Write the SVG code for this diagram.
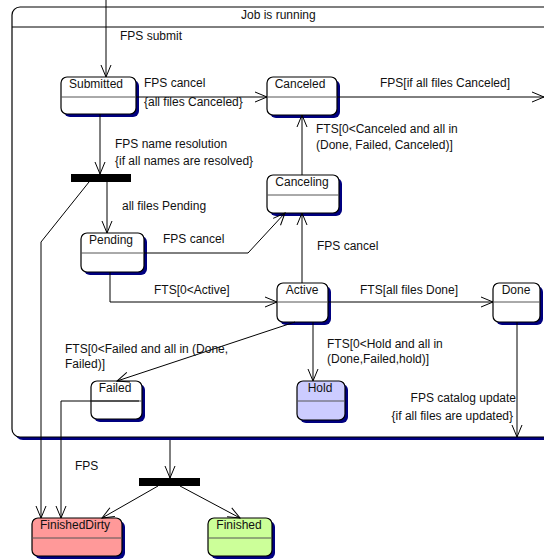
<svg xmlns="http://www.w3.org/2000/svg" width="544" height="560" viewBox="0 0 544 560">
  <defs>
    <marker id="open" viewBox="0 0 14 12" refX="13" refY="6" markerWidth="14" markerHeight="12" markerUnits="userSpaceOnUse" orient="auto">
      <path d="M1,1 L13,6 L1,11" fill="none" stroke="#000" stroke-width="1"/>
    </marker>
  </defs>
  <style>
    text { font-family: "Liberation Sans", Arial, sans-serif; font-size: 12px; fill: #111; }
    .shadow { fill: #000080; }
    .box { fill: #fff; stroke: #000; stroke-width: 1.2; }
    .div { stroke: #555; stroke-width: 1; }
    .edge { fill: none; stroke: #000; stroke-width: 1; marker-end: url(#open); }
    .plain { fill: none; stroke: #000; stroke-width: 1; }
    .bar { fill: #000; }
    .mid { text-anchor: middle; }
  </style>
  <rect width="544" height="560" fill="#fff"/>

  <!-- composite state frame -->
  <g id="job-is-running">
    <rect class="shadow" x="15" y="10" width="560" height="430" rx="8"/>
    <rect class="box" x="12" y="7" width="560" height="430" rx="8"/>
    <line class="plain" x1="12" y1="27" x2="544" y2="27"/>
    <text x="241" y="19">Job is running</text>
  </g>

  <!-- states -->
  <g id="submitted">
    <rect class="shadow" x="64" y="80" width="75" height="37" rx="6"/>
    <rect class="box" x="61" y="77" width="75" height="37" rx="6"/>
    <line class="div" x1="61" y1="97" x2="136" y2="97"/>
    <text class="mid" x="96" y="88">Submitted</text>
  </g>
  <g id="canceled">
    <rect class="shadow" x="270" y="80" width="70" height="38" rx="6"/>
    <rect class="box" x="267" y="77" width="70" height="38" rx="6"/>
    <line class="div" x1="267" y1="97" x2="337" y2="97"/>
    <text class="mid" x="300" y="88">Canceled</text>
  </g>
  <g id="canceling">
    <rect class="shadow" x="270" y="178" width="72" height="38" rx="6"/>
    <rect class="box" x="267" y="175" width="72" height="38" rx="6"/>
    <line class="div" x1="267" y1="195" x2="339" y2="195"/>
    <text class="mid" x="302" y="186">Canceling</text>
  </g>
  <g id="pending">
    <rect class="shadow" x="84" y="236" width="63" height="39" rx="6"/>
    <rect class="box" x="81" y="233" width="63" height="39" rx="6"/>
    <line class="div" x1="81" y1="253" x2="144" y2="253"/>
    <text class="mid" x="111" y="244">Pending</text>
  </g>
  <g id="active">
    <rect class="shadow" x="280" y="286" width="51" height="39" rx="6"/>
    <rect class="box" x="277" y="283" width="51" height="39" rx="6"/>
    <line class="div" x1="277" y1="302" x2="328" y2="302"/>
    <text class="mid" x="302" y="294">Active</text>
  </g>
  <g id="done">
    <rect class="shadow" x="496" y="286" width="47" height="39" rx="6"/>
    <rect class="box" x="493" y="283" width="47" height="39" rx="6"/>
    <line class="div" x1="493" y1="302" x2="540" y2="302"/>
    <text class="mid" x="516" y="294">Done</text>
  </g>
  <g id="failed">
    <rect class="shadow" x="94" y="384" width="51" height="38" rx="6"/>
    <rect class="box" x="91" y="381" width="51" height="38" rx="6"/>
    <line class="div" x1="91" y1="401" x2="142" y2="401"/>
    <text class="mid" x="115" y="392">Failed</text>
  </g>
  <g id="hold">
    <rect class="shadow" x="300" y="384" width="48" height="39" rx="6"/>
    <rect class="box" x="297" y="381" width="48" height="39" rx="6" style="fill:#ccccff"/>
    <line class="div" x1="297" y1="401" x2="345" y2="401"/>
    <text class="mid" x="320" y="392">Hold</text>
  </g>
  <g id="finished-dirty">
    <rect class="shadow" x="35" y="521" width="90" height="38" rx="6"/>
    <rect class="box" x="32" y="518" width="90" height="38" rx="6" style="fill:#ff9999"/>
    <line class="div" x1="32" y1="538" x2="122" y2="538"/>
    <text class="mid" x="75" y="529">FinishedDirty</text>
  </g>
  <g id="finished">
    <rect class="shadow" x="211" y="521" width="64" height="38" rx="6"/>
    <rect class="box" x="208" y="518" width="64" height="38" rx="6" style="fill:#ccff99"/>
    <line class="div" x1="208" y1="538" x2="272" y2="538"/>
    <text class="mid" x="239" y="529">Finished</text>
  </g>

  <!-- fork bars -->
  <g id="fork-names">
    <rect class="bar" x="71" y="174" width="60" height="8"/>
  </g>
  <g id="fork-final">
    <rect class="bar" x="139" y="478" width="61" height="8"/>
  </g>

  <!-- transitions -->
  <g id="connectors">
    <path class="edge" d="M106,0 V77"/>
    <path class="edge" d="M136,97 H267"/>
    <path class="edge" d="M337,97 H544"/>
    <path class="edge" d="M100,114 V174"/>
    <path class="edge" d="M107,182 V233"/>
    <path class="edge" d="M89,182 L41,242 V518"/>
    <path class="edge" d="M144,253 H248 L285,213"/>
    <path class="edge" d="M110,272 V302 H277"/>
    <path class="edge" d="M302,283 V213"/>
    <path class="edge" d="M302,175 V115"/>
    <path class="edge" d="M328,302 H493"/>
    <path class="edge" d="M295,322 L117,381"/>
    <path class="edge" d="M313,322 V381"/>
    <path class="edge" d="M139,401 H61 V518"/>
    <path class="edge" d="M517,322 V437"/>
    <path class="edge" d="M170,440 V478"/>
    <path class="edge" d="M158,486 L102,518"/>
    <path class="edge" d="M180,486 L240,518"/>
  </g>

  <!-- transition labels -->
  <g id="labels">
    <text x="120" y="40">FPS submit</text>
    <text x="144" y="87">FPS cancel</text>
    <text x="144" y="106">{all files Canceled}</text>
    <text x="380" y="87">FPS[if all files Canceled]</text>
    <text x="115" y="148">FPS name resolution</text>
    <text x="115" y="165">{if all names are resolved}</text>
    <text x="316" y="133">FTS[0&lt;Canceled and all in</text>
    <text x="316" y="149">(Done, Failed, Canceled)]</text>
    <text x="122" y="210">all files Pending</text>
    <text x="163" y="243">FPS cancel</text>
    <text x="317" y="250">FPS cancel</text>
    <text x="154" y="294">FTS[0&lt;Active]</text>
    <text x="360" y="294">FTS[all files Done]</text>
    <text x="65" y="353">FTS[0&lt;Failed and all in (Done,</text>
    <text x="65" y="368">Failed)]</text>
    <text x="327" y="348">FTS[0&lt;Hold and all in</text>
    <text x="327" y="363">(Done,Failed,hold)]</text>
    <text x="516" y="402" text-anchor="end">FPS catalog update</text>
    <text x="513" y="420" text-anchor="end">{if all files are updated}</text>
    <text x="75" y="470">FPS</text>
  </g>
</svg>
